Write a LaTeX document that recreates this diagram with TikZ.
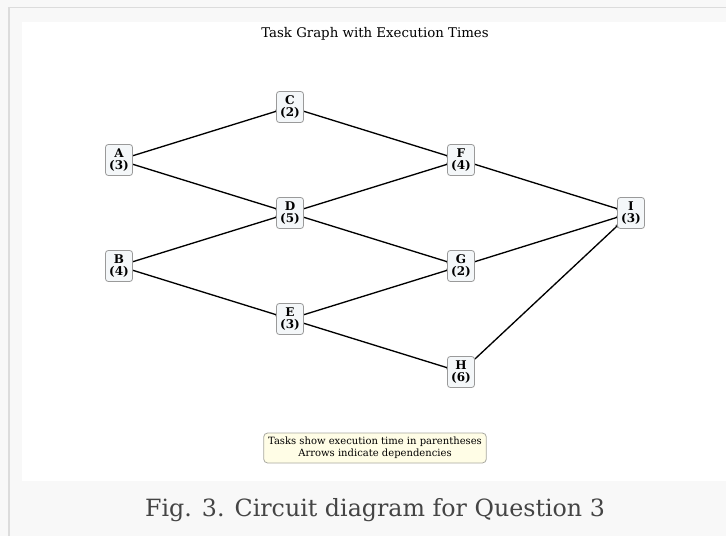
\documentclass[tikz,border=0pt]{standalone}
\usepackage{fontspec}
\setmainfont{DejaVu Serif}
\usetikzlibrary{arrows.meta}
\definecolor{outerbg}{HTML}{F8F8F8}
\definecolor{outerline}{HTML}{DCDCDC}
\definecolor{nodefill}{HTML}{F4F7F9}
\definecolor{nodeline}{HTML}{9A9A9A}
\definecolor{legfill}{HTML}{FFFDE6}
\definecolor{legline}{HTML}{A8A8A0}
\definecolor{captext}{HTML}{444444}
\pgfdeclarelayer{back}
\pgfdeclarelayer{bg}
\pgfsetlayers{back,bg,main}
\tikzset{
  task/.style={draw=nodeline, fill=nodefill, line width=0.6pt, rounded corners=2.2pt,
    minimum width=20.3pt, minimum height=23.3pt, inner sep=1pt, align=center,
    font=\fontsize{9}{9.3}\selectfont\bfseries},
  dep/.style={black, line width=1pt, -{Stealth[length=3pt,width=2.6pt]}, shorten >=-2.5pt},
  legend/.style={draw=legline, fill=legfill, line width=0.6pt, rounded corners=3pt,
    minimum width=167pt, minimum height=22.5pt, inner sep=1pt, align=center,
    font=\fontsize{7.5}{9}\selectfont},
}
\begin{document}
\begin{tikzpicture}[x=0.75pt,y=-0.75pt]
\useasboundingbox (0,0) rectangle (726,536);
\begin{pgfonlayer}{back}
\fill[outerbg] (0,0) rectangle (726,536);
\draw[outerline, line width=0.8pt] (9,536) -- (9,7.5) -- (726,7.5);
\fill[white] (22,22) rectangle (726,481);
\end{pgfonlayer}
\node (title) at (375,34) {\fontsize{10}{12}\selectfont Task Graph with Execution Times};
\node[task] (A) at (119,160) {A\\(3)};
\node[task] (B) at (119,266) {B\\(4)};
\node[task] (C) at (290,107) {C\\(2)};
\node[task] (D) at (290,213) {D\\(5)};
\node[task] (E) at (290,319) {E\\(3)};
\node[task] (F) at (461,160) {F\\(4)};
\node[task] (G) at (461,266) {G\\(2)};
\node[task] (H) at (461,372) {H\\(6)};
\node[task] (I) at (631,213) {I\\(3)};
\begin{pgfonlayer}{bg}
\draw[dep] (A) -- (C);
\draw[dep] (A) -- (D);
\draw[dep] (B) -- (D);
\draw[dep] (B) -- (E);
\draw[dep] (C) -- (F);
\draw[dep] (D) -- (F);
\draw[dep] (D) -- (G);
\draw[dep] (E) -- (G);
\draw[dep] (E) -- (H);
\draw[dep] (F) -- (I);
\draw[dep] (G) -- (I);
\draw[dep] (H) -- (I);
\end{pgfonlayer}
\node[legend] (leg) at (375,448) {Tasks show execution time in parentheses\\Arrows indicate dependencies};
\node[text=captext] (cap) at (375,510) {\fontsize{17.8}{22}\selectfont Fig. 3. Circuit diagram for Question 3};
\end{tikzpicture}
\end{document}
